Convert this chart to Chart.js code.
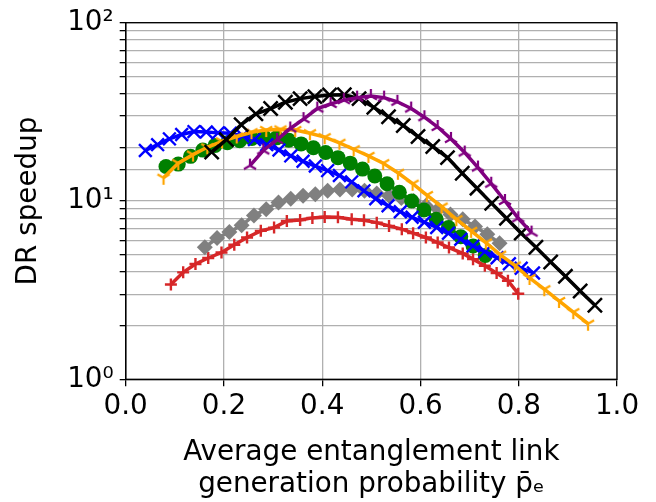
<!DOCTYPE html>
<html>
<head>
<meta charset="utf-8">
<script src="https://cdn.jsdelivr.net/npm/chart.js@4.4.1/dist/chart.umd.min.js"></script>
<style>
  html, body { margin: 0; padding: 0; background: #fff; }
  #wrap { width: 656px; height: 502px; }
</style>
</head>
<body>
<div id="wrap"><canvas id="chart"></canvas></div>
<script>
// Values (x = average link generation probability, y = DR speedup)
const purpleX = [0.253, 0.280, 0.308, 0.335, 0.362, 0.390, 0.417, 0.444, 0.471, 0.499, 0.526,
                 0.553, 0.581, 0.608, 0.635, 0.662, 0.690, 0.717, 0.744, 0.772, 0.799, 0.826];
const purpleY = [15.8, 19.2, 22.0, 25.5, 28.8, 33.0, 35.0, 36.8, 38.0, 38.8, 38.0,
                 36.0, 33.0, 29.5, 26.0, 22.3, 18.7, 15.4, 12.5, 10.0, 8.0, 6.65];

const blackX = [0.175, 0.205, 0.235, 0.265, 0.295, 0.325, 0.355, 0.385, 0.415, 0.445, 0.475, 0.505, 0.535, 0.565,
                0.595, 0.625, 0.655, 0.685, 0.715, 0.745, 0.775, 0.805, 0.835, 0.865, 0.895, 0.925, 0.955];
const blackY = [18.8, 22.1, 26.8, 30.8, 33.0, 35.8, 37.5, 38.5, 39.3, 39.4, 37.5, 33.5, 29.7, 26.5,
                23.0, 20.2, 17.5, 14.3, 11.8, 9.7, 8.0, 6.6, 5.5, 4.55, 3.78, 3.13, 2.6];

const orangeX = [0.077, 0.107, 0.137, 0.166, 0.196, 0.226, 0.256, 0.286, 0.315, 0.345, 0.375, 0.405, 0.435, 0.464, 0.494,
                 0.524, 0.554, 0.584, 0.613, 0.643, 0.673, 0.703, 0.733, 0.762, 0.792, 0.822, 0.852, 0.882, 0.911, 0.941];
const orangeY = [13.5, 16.3, 18.2, 20.0, 21.6, 23.0, 24.3, 25.0, 25.2, 25.0, 24.0, 22.8, 21.2, 19.5, 17.9,
                 16.3, 14.4, 12.5, 10.8, 9.3, 7.9, 6.8, 5.85, 5.0, 4.35, 3.7, 3.2, 2.75, 2.38, 2.05];

const blueX = [0.040, 0.065, 0.089, 0.114, 0.139, 0.164, 0.188, 0.213, 0.238, 0.262, 0.287, 0.312, 0.336, 0.361, 0.386, 0.411, 0.435,
               0.460, 0.485, 0.509, 0.534, 0.559, 0.583, 0.608, 0.633, 0.657, 0.682, 0.707, 0.731, 0.756, 0.781, 0.805, 0.830];
const blueY = [19.2, 20.7, 22.3, 23.6, 24.5, 24.4, 24.1, 24.0, 23.2, 22.1, 20.7, 19.3, 17.9, 16.7, 15.7, 14.8, 13.9,
               12.8, 11.4, 10.3, 9.4, 8.7, 8.1, 7.6, 7.1, 6.6, 6.1, 5.6, 5.2, 4.8, 4.45, 4.2, 3.95];

const greenX = [0.082, 0.107, 0.132, 0.157, 0.182, 0.207, 0.232, 0.257, 0.282, 0.307, 0.332, 0.357, 0.382, 0.407,
                0.432, 0.457, 0.482, 0.507, 0.532, 0.557, 0.582, 0.607, 0.632, 0.657, 0.682, 0.707, 0.732];
const greenY = [15.6, 16.1, 17.8, 19.3, 20.5, 21.2, 21.8, 22.4, 22.8, 22.6, 21.9, 20.9, 19.9, 18.7,
                17.5, 16.3, 15.1, 13.8, 12.5, 11.2, 10.0, 8.9, 7.9, 7.1, 6.3, 5.6, 4.95];

const grayX = [0.161, 0.186, 0.211, 0.236, 0.261, 0.286, 0.311, 0.336, 0.361, 0.386, 0.411, 0.436, 0.461,
               0.486, 0.511, 0.536, 0.561, 0.586, 0.611, 0.636, 0.661, 0.686, 0.711, 0.736, 0.761];
const grayY = [5.5, 6.2, 6.7, 7.3, 8.3, 9.0, 9.8, 10.3, 10.7, 10.9, 11.4, 11.6, 11.6,
               11.4, 11.0, 10.7, 10.4, 10.0, 9.4, 9.0, 8.4, 7.9, 7.2, 6.5, 5.8];

const redX = [0.092, 0.117, 0.142, 0.168, 0.195, 0.221, 0.247, 0.275, 0.302, 0.328, 0.355, 0.380, 0.405, 0.432, 0.460,
              0.485, 0.511, 0.536, 0.562, 0.585, 0.611, 0.635, 0.658, 0.686, 0.707, 0.731, 0.755, 0.778, 0.799];
const redY = [3.40, 3.98, 4.43, 4.79, 5.14, 5.68, 6.24, 6.80, 7.09, 7.73, 7.83, 8.04, 8.14, 8.10, 7.90,
              7.80, 7.56, 7.25, 6.95, 6.60, 6.24, 5.85, 5.48, 5.08, 4.72, 4.33, 3.94, 3.57, 3.02];

const xTicks = [0, 0.2, 0.4, 0.6, 0.8, 1.0];
const yMajorLabels = { 1: '10\u2070', 10: '10\u00b9', 100: '10\u00b2' };

const FONT = 'DejaVu Sans';
const FONT_SIZE = 27.8;

// three-spoke markers like matplotlib '1' (tri_down) and '2' (tri_up)
function triMarker(color, down) {
    const c = document.createElement('canvas');
    const s = 18, r = 7;
    c.width = s; c.height = s;
    const g = c.getContext('2d');
    g.strokeStyle = color;
    g.lineWidth = 2.2;
    const cx = s / 2, cy = s / 2;
    const dir = down ? 1 : -1;
    const spokes = [[0, dir * r], [-0.866 * r, -dir * 0.5 * r], [0.866 * r, -dir * 0.5 * r]];
    g.beginPath();
    spokes.forEach(([dx, dy]) => {
        g.moveTo(cx, cy);
        g.lineTo(cx + dx, cy + dy);
    });
    g.stroke();
    return c;
}

function pts(xs, ys) {
    return xs.map((x, i) => ({ x: x, y: ys[i] }));
}

function series(xs, ys, color, style, radius, extra) {
    return Object.assign({
        data: pts(xs, ys),
        borderColor: color,
        backgroundColor: color,
        borderWidth: 3.5,
        pointStyle: style,
        pointRadius: radius,
        pointBorderColor: color,
        pointBackgroundColor: color,
        pointBorderWidth: 2.4,
        pointHoverRadius: radius,
        tension: 0,
        fill: false
    }, extra || {});
}

// full box around the plot area, like matplotlib spines
const boxPlugin = {
    id: 'box',
    afterDraw(chart) {
        const { ctx, chartArea: a } = chart;
        ctx.save();
        ctx.strokeStyle = '#000';
        ctx.lineWidth = 1.3;
        ctx.strokeRect(a.left, a.top, a.right - a.left, a.bottom - a.top);
        ctx.restore();
    }
};

Chart.defaults.font.family = FONT;
Chart.defaults.color = '#000';

new Chart(document.getElementById('chart'), {
    type: 'line',
    data: {
        datasets: [
            series(purpleX, purpleY, '#800080', triMarker('#800080', false), 9),
            series(blackX, blackY, '#000000', 'crossRot', 10, { pointBorderWidth: 2.5 }),
            series(orangeX, orangeY, '#ffa500', triMarker('#ffa500', true), 9),
            series(blueX, blueY, '#0000ff', 'crossRot', 9),
            series(greenX, greenY, '#008000', 'circle', 7.5, { pointBorderWidth: 0 }),
            series(grayX, grayY, '#808080', 'rectRot', 8, { pointBorderWidth: 0 }),
            series(redX, redY, '#d62728', 'cross', 6)
        ]
    },
    options: {
        responsive: true,
        maintainAspectRatio: false,
        animation: false,
        events: [],
        layout: { padding: { top: 20.7, right: 39, bottom: 0, left: 0 } },
        plugins: {
            legend: { display: false },
            tooltip: { enabled: false }
        },
        scales: {
            x: {
                type: 'linear',
                min: 0,
                max: 1,
                afterFit: (s) => { s.height = 122.7; },
                afterBuildTicks: (s) => { s.ticks = xTicks.map(v => ({ value: v })); },
                ticks: {
                    font: { size: FONT_SIZE },
                    padding: 4,
                    maxRotation: 0,
                    callback: (v) => Number(v).toFixed(1)
                },
                grid: { color: '#b0b0b0', lineWidth: 1.3, tickColor: '#000', tickLength: 7 },
                border: { color: '#000', width: 1.3 },
                title: {
                    display: true,
                    text: ['Average entanglement link', 'generation probability p\u0304\u2091'],
                    font: { size: FONT_SIZE, lineHeight: 1.15 },
                    padding: { top: 0, bottom: 1 }
                }
            },
            y: {
                type: 'logarithmic',
                min: 1,
                max: 100,
                afterFit: (s) => { s.width = 125.7; },
                ticks: {
                    font: { size: FONT_SIZE },
                    padding: 6,
                    autoSkip: false,
                    callback: (v) => yMajorLabels[v] || ''
                },
                grid: { color: '#b0b0b0', lineWidth: 1.3, tickColor: '#000', tickLength: 6 },
                border: { color: '#000', width: 1.3 },
                title: {
                    display: true,
                    text: 'DR speedup',
                    font: { size: FONT_SIZE, lineHeight: 1.2 },
                    padding: { top: 12, bottom: 0 }
                }
            }
        }
    },
    plugins: [boxPlugin]
});
</script>
</body>
</html>
